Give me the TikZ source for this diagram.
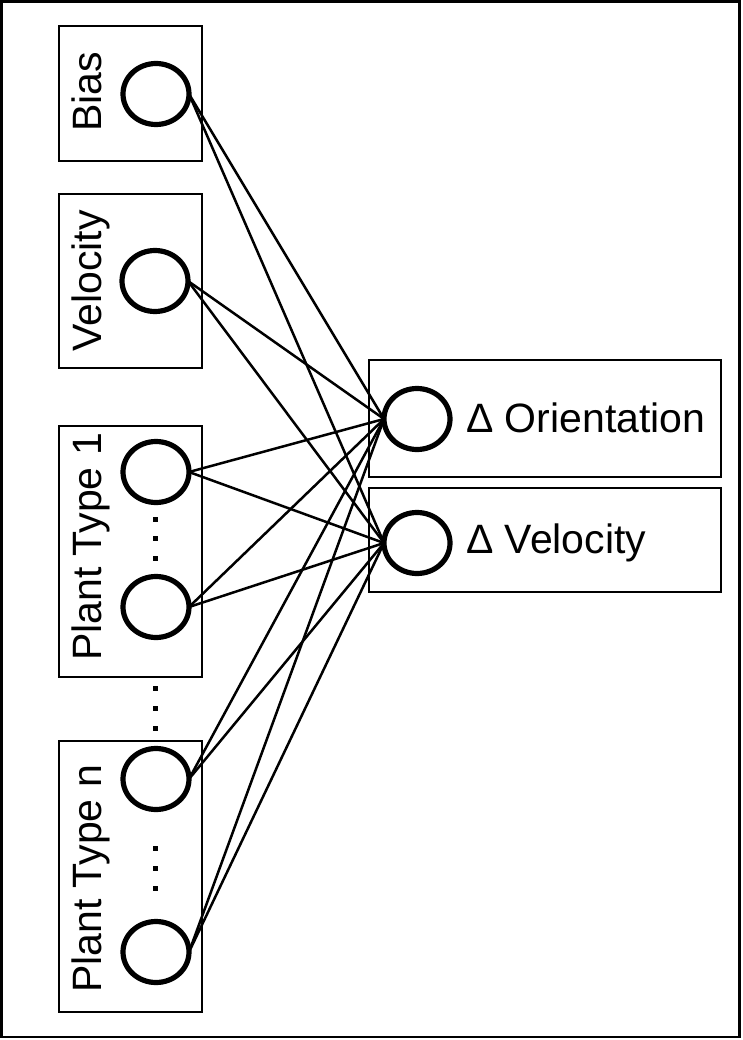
\documentclass[tikz,border=0pt]{standalone}
\usepackage{fontspec}
\setmainfont{Liberation Sans}
\usetikzlibrary{shapes.geometric}
\begin{document}
\begin{tikzpicture}[x=1pt,y=-1pt,
  frame/.style={draw=black,line width=2.6pt},
  group/.style={draw=black,line width=2.6pt},
  neuron/.style={draw=black,ellipse,line width=5.2pt,minimum width=66pt,minimum height=61pt,inner sep=0pt,outer sep=0pt},
  conn/.style={draw=black,line width=2.5pt},
  lab/.style={font=\fontsize{41pt}{48pt}\selectfont,inner sep=0pt},
  vlab/.style={lab,rotate=90,anchor=base},
  dotsq/.style={fill=black,minimum size=5pt,inner sep=0pt,rectangle}
]
\useasboundingbox (0,0) rectangle (742,1040);
\draw[frame] (1.3,1.3) rectangle (739.7,1037);
% left group boxes
\draw[group] (59,26) rectangle (202,161);
\draw[group] (59,194) rectangle (202,368);
\draw[group] (59,426) rectangle (202,677);
\draw[group] (59,741) rectangle (202,1012);
% right boxes
\draw[group] (369,360) rectangle (721,477);
\draw[group] (369,488) rectangle (721,592);
% labels
\node[vlab] (tb) at (101.5,92) {Bias};
\node[vlab] (tv) at (101.5,281) {Velocity};
\node[vlab] (tp1) at (101.5,547) {Plant Type 1};
\node[vlab] (tpn) at (101.5,879) {Plant Type n};
\node[lab,anchor=base west] (to) at (466,432) {Δ Orientation};
\node[lab,anchor=base west] (tdv) at (466,553) {Δ Velocity};
% neurons
\node[neuron] (b) at (156,94) {};
\node[neuron] (v) at (155,281) {};
\node[neuron] (p1a) at (156,472) {};
\node[neuron] (p1b) at (156,607) {};
\node[neuron] (pna) at (156,779) {};
\node[neuron] (pnb) at (156,952) {};
\node[neuron] (o) at (417,419) {};
\node[neuron] (dv) at (417,543) {};
% dots
\foreach \y [count=\i] in {519,538,558} \node[dotsq] (da\i) at (155,\y) {};
\foreach \y [count=\i] in {688,708,728} \node[dotsq] (db\i) at (155,\y) {};
\foreach \y [count=\i] in {848,868,888} \node[dotsq] (dc\i) at (155,\y) {};
% connections
\foreach \s in {b,v,p1a,p1b,pna,pnb}{
  \draw[conn] (\s.east) -- (o.west);
  \draw[conn] (\s.east) -- (dv.west);
}
\end{tikzpicture}
\end{document}
